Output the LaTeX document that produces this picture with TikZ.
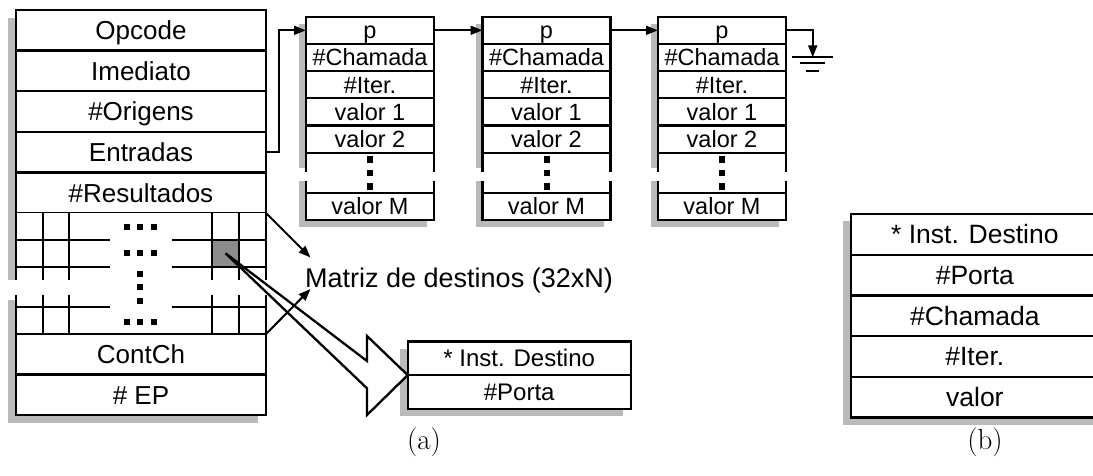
\documentclass[tikz,border=0pt]{standalone}
\usepackage{fontspec}
\newfontfamily\arial{Liberation Sans}
\usetikzlibrary{arrows.meta}

\tikzset{
  shadowfill/.style={fill=black!27, draw=none},
  border/.style={line width=2.3pt},
  cell/.style={draw, border, fill=white, inner sep=0pt, outer sep=0pt, anchor=north west},
  mainrow/.style={cell, minimum width=250pt, minimum height=40.6pt,
    text height=24pt, text depth=5.4pt, font=\arial\fontsize{26}{30}\selectfont},
  lrow/.style={cell, minimum width=128pt, minimum height=27.2pt,
    text height=21pt, text depth=4.2pt, font=\arial\fontsize{23.5}{27}\selectfont},
  arow/.style={cell, minimum width=223pt, minimum height=33.6pt,
    text height=22pt, text depth=4.8pt, font=\arial\fontsize{24}{28}\selectfont},
  brow/.style={cell, minimum width=248.3pt, minimum height=40.7pt,
    text height=24.5pt, text depth=5.5pt, font=\arial\fontsize{26.5}{30}\selectfont},
  link/.style={line width=2pt, -{Triangle[length=12pt,width=9pt]}},
  gridline/.style={line width=2pt},
  caption/.style={inner sep=0pt, font=\fontsize{29}{34}\selectfont},
}

% one linked list element: #1 = index, #2 = left edge
\newcommand\memlist[2]{%
  \fill[shadowfill] (#2-7,23.7) rectangle (#2+121,168);
  \fill[shadowfill] (#2-7,181) rectangle (#2+121,226.5);
  \fill[white] (#2,152.7) rectangle (#2+128,192.7);
  \node[lrow] (p#1)  at (#2,16.7)  {p};
  \node[lrow] (ch#1) at (#2,43.9)  {\#Chamada};
  \node[lrow] (it#1) at (#2,71.1)  {\#Iter.};
  \node[lrow] (va#1) at (#2,98.3)  {valor 1};
  \node[lrow] (vb#1) at (#2,125.5) {valor 2};
  \node[lrow] (vm#1) at (#2,192.7) {valor M};
  \draw[border] (#2,152.7) -- (#2,172) (#2,181) -- (#2,192.7)
                (#2+128,152.7) -- (#2+128,172) (#2+128,181) -- (#2+128,192.7);
  \fill (#2+61,156) rectangle ++(6,6.5);
  \fill (#2+61,169.5) rectangle ++(6,6.5);
  \fill (#2+61,183) rectangle ++(6,6.5);
}

\begin{document}
\begin{tikzpicture}[x=1pt,y=-1pt]
\useasboundingbox (0,0) rectangle (1093,475);

% ---------- instruction record ----------
\fill[shadowfill] (8,18) rectangle (258,280);
\fill[shadowfill] (8,300) rectangle (258,423);

\node[mainrow] (opcode)  at (16,10)    {Opcode};
\node[mainrow] (imed)    at (16,50.6)  {Imediato};
\node[mainrow] (orig)    at (16,91.2)  {\#Origens};
\node[mainrow] (entr)    at (16,131.8) {Entradas};
\node[mainrow] (result)  at (16,172.4) {\#Resultados};

% destination matrix (32xN)
\fill[white] (16,213) rectangle (266,280);
\fill[white] (16,295) rectangle (266,334);
\fill[black!45] (212,240) rectangle (239.3,267);
\draw[border] (16,213) -- (16,280) (266,213) -- (266,280)
              (16,295) -- (16,334) (266,295) -- (266,334);
\foreach \y in {240,267,307}
  \draw[gridline] (16,\y) -- (110,\y) (172,\y) -- (266,\y);
\foreach \x in {42.7,69.3,212,239.3}
  \draw[gridline] (\x,213) -- (\x,280) (\x,295) -- (\x,334);
\foreach \x/\y in {126.7/226.7,140/226.7,154/226.7,
                   126.7/253.3,140/253.3,154/253.3,
                   140/274,140/287,140/300.7,
                   126.7/321.7,140/321.7,154/321.7}
  \fill (\x-3,\y-3) rectangle (\x+3,\y+3);

\node[mainrow] (contch)  at (16,334)   {ContCh};
\node[mainrow] (ep)      at (16,374.6) {\# EP};

\coordinate (gridNE) at (266,213);
\coordinate (cellc)  at (225.5,253.3);

% ---------- linked list of operand records ----------
\memlist{1}{306}
\memlist{2}{482.5}
\memlist{3}{658}

\draw[link] (entr.east) -- ++(13,0) |- (p1.west);
\draw[link] (p1.east) -- (p2.west);
\draw[link] (p2.east) -- (p3.west);

% null pointer (ground)
\coordinate (gnd) at (812.7,57.3);
\draw[link] (p3.east) -| (gnd);
\draw[gridline] (792.3,57.3) -- (832.7,57.3)
                (800,63.3) -- (825,63.3)
                (805.7,71) -- (819.3,71);

% ---------- destination entry ----------
\fill[shadowfill] (400,349) rectangle (623,416);
\node[arow] (insta) at (407.7,341.5) {* Inst. Destino};
\node[arow] (porta) at (407.7,375.1) {\#Porta};

% wide arrow from the selected matrix cell to the entry
\draw[border, fill=white, line join=miter]
  (cellc) -- (367,361) -- (367,336) -- (insta.south west)
  -- (367,415) -- (367,388.3) -- cycle;

\node[anchor=base west, inner sep=0pt, font=\arial\fontsize{27}{31}\selectfont]
  (matriz) at (305,287.3) {Matriz de destinos (32xN)};
\coordinate (mtop) at (310.5,257.5);
\coordinate (mbot) at (310.5,289);
\draw[link] (gridNE) -- (mtop);
\draw[link] (contch.north east) -- (mbot);

% ---------- token record ----------
\fill[shadowfill] (843,221) rectangle (1100,424.5);
\node[brow] (instb) at (850.7,214)   {* Inst. Destino};
\node[brow] (portb) at (850.7,254.7) {\#Porta};
\node[brow] (chb)   at (850.7,295.4) {\#Chamada};
\node[brow] (itb)   at (850.7,336.1) {\#Iter.};
\node[brow] (valb)  at (850.7,376.8) {valor};

% ---------- captions ----------
\node[caption] (capa) at (424,442) {(a)};
\node[caption] (capb) at (985,442) {(b)};
\end{tikzpicture}
\end{document}
